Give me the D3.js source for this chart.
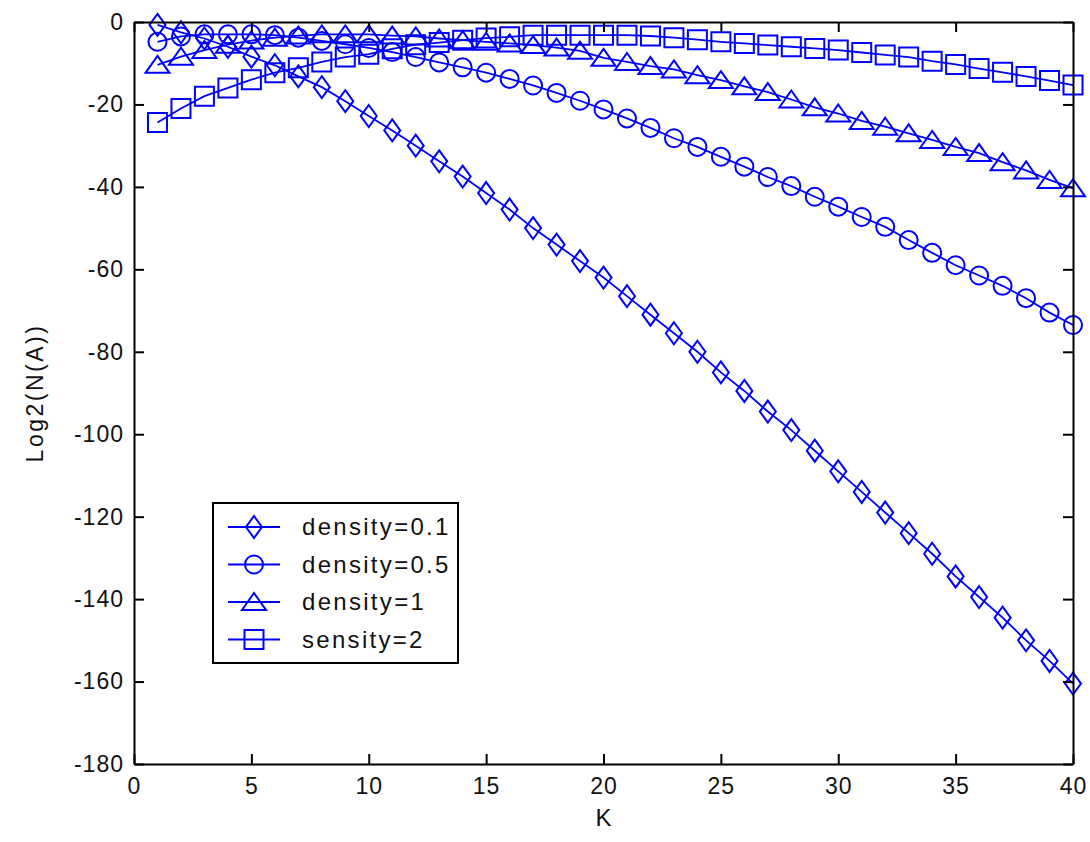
<!DOCTYPE html>
<html lang="en">
<head>
    <meta charset="UTF-8">
    <title>Log2(N(A)) vs K</title>
    <script type="text/javascript" src="https://d3js.org/d3.v7.min.js"></script>
    <style>
        body{ margin:0; background-color:white; }
        text{ font-family:"Liberation Sans", Arial, sans-serif; fill:#111; }
    </style>
</head>
<body>
<script type="text/javascript">
    var width = 1090, height = 842;

    // data
    var K = d3.range(1, 41);
    var density01 = [-0.7, -2.5, -4, -6, -8.4, -10.5, -13.2, -15.8, -19.2, -22.8, -26.3, -30, -33.8, -37.5, -41.5, -45.5, -50, -54, -58, -62,
                     -66.5, -71, -75.5, -80, -85, -89.5, -94.5, -99, -104, -109, -114, -119, -124, -129, -134.5, -139.5, -144.5, -150, -155, -160.5];
    var density05 = [-4.8, -3.5, -3, -3, -3, -3.2, -3.8, -4.6, -5.4, -6.3, -7.3, -8.5, -9.8, -11, -12.3, -13.8, -15.4, -17.2, -19.1, -21.2,
                     -23.4, -25.7, -28.2, -30.3, -32.7, -35.1, -37.6, -39.8, -42.4, -44.8, -47.3, -49.7, -52.9, -56, -59, -61.5, -64, -67, -70.5, -73.5];
    var density1  = [-10.4, -8.4, -6.8, -5.5, -4.5, -3.8, -3.3, -3, -3, -3, -3.3, -3.5, -4, -4.4, -4.8, -5.2, -5.6, -6.2, -7, -8.7,
                     -9.7, -10.7, -11.5, -12.9, -14.1, -15.6, -17, -18.8, -20.7, -22.2, -24, -25.4, -27, -28.6, -30.3, -31.8, -34, -36, -38.3, -40.3];
    var density2  = [-24.4, -21, -18, -16, -14, -12.3, -11.1, -9.7, -8.5, -7.8, -6.5, -5.5, -5, -4.4, -3.9, -3.6, -3.2, -3.2, -3.2, -3.2,
                     -3.2, -3.4, -3.8, -4.3, -4.8, -5.2, -5.6, -6, -6.4, -6.8, -7.4, -8, -8.5, -9.5, -10.3, -11.3, -12.2, -13.2, -14.2, -15.3];
    var labels = ["density=0.1", "density=0.5", "density=1", "sensity=2"];
    var markers = ["diamond", "circle", "triangle", "square"];
    var xTicks = [0, 5, 10, 15, 20, 25, 30, 35, 40];
    var yTicks = [0, -20, -40, -60, -80, -100, -120, -140, -160, -180];

    var series = [density01, density05, density1, density2].map(function(v, i){
        return { name: labels[i], marker: markers[i], values: v };
    });

    // plot box (careful: "top" is reserved on window)
    var pLeft = 134, pRight = 1073, pTop = 22, pBottom = 764;
    var x = d3.scaleLinear().domain([0, 40]).range([pLeft, pRight]);
    var y = d3.scaleLinear().domain([-180, 0]).range([pBottom, pTop]);
    var blue = "#0000ff";

    var svg = d3.select("body").append("svg")
        .attr("width", width)
        .attr("height", height);

    // marker shapes, MATLAB style
    function markerPath(type){
        if(type == "diamond") return "M0,-11L8,0L0,11L-8,0Z";
        if(type == "triangle") return "M0,-9L12,8L-12,8Z";
        if(type == "square") return "M-9.5,-9.5L9.5,-9.5L9.5,9.5L-9.5,9.5Z";
        return "M9,0A9,9 0 1,1 -9,0A9,9 0 1,1 9,0Z";
    }

    var line = d3.line()
        .x(function(d, i){ return x(K[i]); })
        .y(function(d){ return y(d); });

    var plot = svg.append("g");
    series.forEach(function(s){
        var g = plot.append("g");
        g.append("path")
            .attr("d", line(s.values))
            .attr("fill", "none")
            .attr("stroke", blue)
            .attr("stroke-width", 1.8);
        g.selectAll("path.m")
            .data(s.values)
            .enter()
            .append("path")
            .attr("class", "m")
            .attr("d", markerPath(s.marker))
            .attr("transform", function(d, i){ return "translate(" + x(K[i]) + "," + y(d) + ")"; })
            .attr("fill", "none")
            .attr("stroke", blue)
            .attr("stroke-width", 2);
    });

    // axes, ticks inside on all sides
    function styleAxis(g){
        g.selectAll("path.domain").attr("stroke", "#000").attr("stroke-width", 2);
        g.selectAll(".tick line").attr("stroke", "#000").attr("stroke-width", 2);
        g.selectAll(".tick text")
            .style("font-family", "'Liberation Sans', Arial, sans-serif")
            .style("font-size", "23px")
            .style("letter-spacing", "1px")
            .attr("fill", "#111");
    }

    svg.append("g")
        .attr("transform", "translate(0," + pBottom + ")")
        .call(d3.axisBottom(x).tickValues(xTicks).tickFormat(String).tickSizeInner(-10).tickSizeOuter(0).tickPadding(14))
        .call(styleAxis);
    svg.append("g")
        .attr("transform", "translate(0," + pTop + ")")
        .call(d3.axisTop(x).tickValues(xTicks).tickSizeInner(-10).tickSizeOuter(0).tickFormat(""))
        .call(styleAxis);
    svg.append("g")
        .attr("transform", "translate(" + pLeft + ",0)")
        .call(d3.axisLeft(y).tickValues(yTicks).tickFormat(String).tickSizeInner(-10).tickSizeOuter(0).tickPadding(10))
        .call(styleAxis);
    svg.append("g")
        .attr("transform", "translate(" + pRight + ",0)")
        .call(d3.axisRight(y).tickValues(yTicks).tickSizeInner(-10).tickSizeOuter(0).tickFormat(""))
        .call(styleAxis);

    // axis titles
    svg.append("text")
        .attr("x", (pLeft + pRight) / 2)
        .attr("y", 826)
        .attr("text-anchor", "middle")
        .style("font-size", "24px")
        .text("K");
    svg.append("text")
        .attr("transform", "translate(43," + ((pTop + pBottom) / 2) + ") rotate(-90)")
        .attr("text-anchor", "middle")
        .style("font-size", "23px")
        .style("letter-spacing", "2.5px")
        .text("Log2(N(A))");

    // legend
    var legend = svg.append("g").attr("transform", "translate(213,503)");
    legend.append("rect")
        .attr("width", 245)
        .attr("height", 160)
        .attr("fill", "white")
        .attr("stroke", "#000")
        .attr("stroke-width", 2);
    series.forEach(function(s, i){
        var ly = 24 + i * 37.5;
        legend.append("line")
            .attr("x1", 15).attr("x2", 67)
            .attr("y1", ly).attr("y2", ly)
            .attr("stroke", blue).attr("stroke-width", 1.8);
        legend.append("path")
            .attr("d", markerPath(s.marker))
            .attr("transform", "translate(41," + ly + ")")
            .attr("fill", "none")
            .attr("stroke", blue)
            .attr("stroke-width", 2);
        legend.append("text")
            .attr("x", 89)
            .attr("y", ly + 8)
            .style("font-size", "24px")
            .style("letter-spacing", "2.3px")
            .text(s.name);
    });
</script>
</body>
</html>
